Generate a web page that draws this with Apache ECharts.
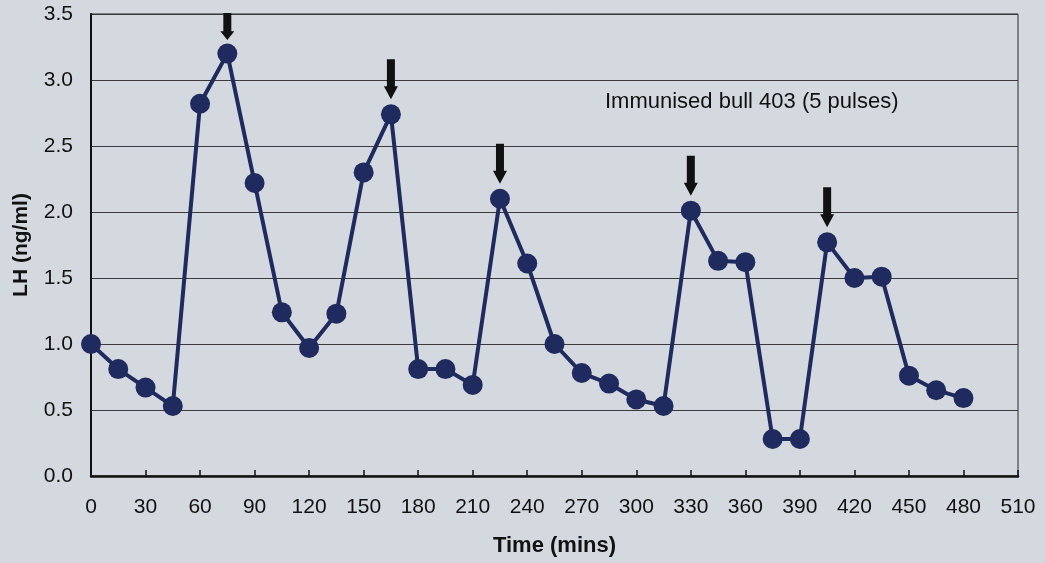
<!DOCTYPE html>
<html>
<head>
<meta charset="utf-8">
<script src="https://cdn.jsdelivr.net/npm/echarts@6/dist/echarts.min.js"></script>
<style>
html,body{margin:0;padding:0;background:#d4d9df;}
#c{width:1045px;height:563px;}
</style>
</head>
<body>
<div id="c"></div>
<script>
var times = [0,15,30,45,60,75,90,105,120,135,150,165,180,195,210,225,240,255,270,285,300,315,330,345,360,375,390,405,420,435,450,465,480];
var lh = [1.00,0.81,0.67,0.53,2.82,3.20,2.22,1.24,0.97,1.23,2.30,2.74,0.81,0.81,0.69,2.10,1.61,1.00,0.78,0.70,0.58,0.53,2.01,1.63,1.62,0.28,0.28,1.77,1.50,1.51,0.76,0.65,0.59];
var pulseTimes = [75,165,225,330,405];
var annotation = 'Immunised bull 403 (5 pulses)';
var xTitle = 'Time (mins)';
var yTitle = 'LH (ng/ml)';

var data = times.map(function(t,i){return [t, lh[i]];});
var arrowPath = 'path://M3,0 L11,0 L11,27 L14,27 L7,40 L0,27 L3,27 Z';
var marks = pulseTimes.map(function(t,i){
  var v = lh[times.indexOf(t)];
  var item = {coord:[t, v], value:''};
  if (i === 0) { item.symbolSize = [14, 27]; item.symbolOffset = [0, -27]; }
  return item;
});

var chart = echarts.init(document.getElementById('c'));
var font = 'Liberation Sans, Arial, sans-serif';
chart.setOption({
  backgroundColor: '#d4d9df',
  animation: false,
  grid: {left: 91, right: 27, top: 14, bottom: 87, show: true, borderColor: '#2a2a2a', borderWidth: 1, backgroundColor: 'transparent'},
  graphic: [{
    type: 'text', left: 605, top: 91,
    style: {text: annotation, font: '22px ' + font, fill: '#111'}
  }],
  xAxis: {
    type: 'value', min: 0, max: 510, interval: 30,
    name: xTitle, nameLocation: 'middle', nameGap: 59,
    nameTextStyle: {fontFamily: font, fontSize: 22, fontWeight: 'bold', color: '#111'},
    axisLine: {show: true, lineStyle: {color: '#111', width: 2.5}},
    axisTick: {show: true, inside: true, length: 6, lineStyle: {color: '#111', width: 1.5}},
    axisLabel: {fontFamily: font, fontSize: 21, color: '#111', margin: 21},
    splitLine: {show: false}
  },
  yAxis: {
    type: 'value', min: 0, max: 3.5, interval: 0.5,
    name: yTitle, nameLocation: 'middle', nameGap: 59,
    nameTextStyle: {fontFamily: font, fontSize: 21, fontWeight: 'bold', color: '#111'},
    axisLine: {show: true, lineStyle: {color: '#111', width: 2}},
    axisTick: {show: false},
    axisLabel: {fontFamily: font, fontSize: 21, color: '#111', margin: 18, formatter: function(v){return v.toFixed(1);}},
    splitLine: {show: true, lineStyle: {color: '#3a3a3a', width: 1.2}}
  },
  series: [{
    type: 'line', data: data,
    symbol: 'circle', symbolSize: 20,
    lineStyle: {color: '#1f2a5e', width: 4},
    itemStyle: {color: '#1f2a5e'},
    markPoint: {
      symbol: arrowPath, symbolSize: [14, 40], symbolOffset: [0, -35],
      symbolKeepAspect: false,
      itemStyle: {color: '#111'},
      label: {show: false},
      data: marks
    }
  }]
});
</script>
</body>
</html>
